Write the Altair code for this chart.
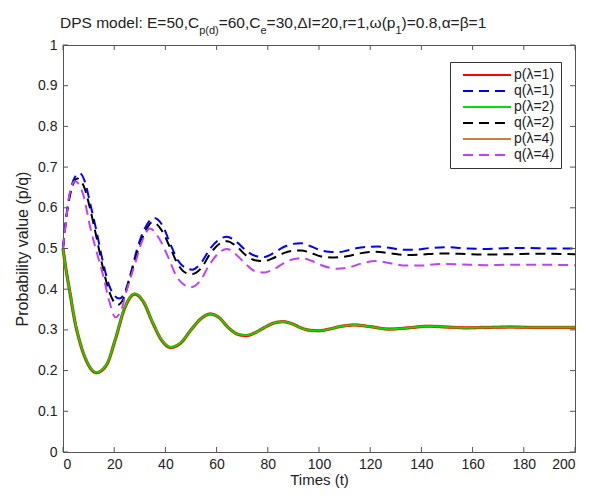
import altair as alt
import pandas as pd

# ---------------- data ----------------
labels = ["p(λ=1)", "q(λ=1)", "p(λ=2)", "q(λ=2)", "p(λ=4)", "q(λ=4)"]
colors = ["#FF0000", "#0000FF", "#00E000", "#000000", "#C8803C", "#C040FF"]

t_p = [0, 1.4, 2.7, 4.7, 6.6, 9.3, 13, 17, 20.5, 24, 28, 31.5, 35, 38.5, 42, 46,
       50, 54, 57.5, 61, 64.5, 68, 71.5, 75, 79, 82.5, 86, 89.5, 93, 96.5, 100,
       104, 108, 114, 120, 127.5, 135, 142.5, 150, 157, 165, 175, 185, 200]
p_lam1 = [0.500, 0.440, 0.392, 0.319, 0.270, 0.222, 0.195, 0.214, 0.278, 0.352,
          0.388, 0.368, 0.318, 0.275, 0.257, 0.268, 0.300, 0.328, 0.339, 0.330,
          0.306, 0.290, 0.286, 0.293, 0.307, 0.317, 0.320, 0.315, 0.305, 0.299,
          0.298, 0.302, 0.308, 0.312, 0.308, 0.302, 0.305, 0.309, 0.307, 0.305,
          0.306, 0.307, 0.306, 0.306]
p_lam2 = [0.500, 0.440, 0.393, 0.320, 0.271, 0.223, 0.196, 0.215, 0.279, 0.353,
          0.389, 0.369, 0.319, 0.276, 0.258, 0.269, 0.300, 0.328, 0.339, 0.330,
          0.306, 0.290, 0.287, 0.293, 0.307, 0.317, 0.320, 0.315, 0.305, 0.299,
          0.298, 0.302, 0.308, 0.312, 0.308, 0.302, 0.305, 0.309, 0.307, 0.305,
          0.306, 0.307, 0.306, 0.306]
p_lam4 = [0.500, 0.440, 0.392, 0.319, 0.270, 0.222, 0.195, 0.214, 0.278, 0.352,
          0.388, 0.368, 0.318, 0.275, 0.257, 0.268, 0.300, 0.328, 0.339, 0.330,
          0.306, 0.290, 0.286, 0.293, 0.307, 0.317, 0.320, 0.315, 0.305, 0.299,
          0.298, 0.302, 0.308, 0.312, 0.308, 0.302, 0.305, 0.309, 0.307, 0.305,
          0.306, 0.307, 0.306, 0.306]

t_q1 = [0, 1.5, 3, 4.5, 6.5, 8.5, 10.5, 13, 15.5, 18, 20, 22, 24, 26.5, 29, 32,
        35.5, 39, 42, 45, 48, 50.5, 54, 57.5, 61, 64, 68, 71.5, 75, 78.5, 82, 86,
        89.5, 93, 97, 100.5, 104, 107.5, 111, 115, 119, 123, 128, 133, 138, 143,
        150, 158, 166, 174, 182, 190, 200]
q_lam1 = [0.500, 0.590, 0.645, 0.674, 0.685, 0.665, 0.614, 0.545, 0.470, 0.410,
          0.385, 0.377, 0.390, 0.440, 0.500, 0.550, 0.575, 0.555, 0.510, 0.470,
          0.452, 0.448, 0.465, 0.500, 0.522, 0.529, 0.515, 0.495, 0.482, 0.479,
          0.488, 0.503, 0.511, 0.513, 0.505, 0.496, 0.492, 0.491, 0.495, 0.501,
          0.504, 0.505, 0.501, 0.497, 0.497, 0.501, 0.503, 0.500, 0.499, 0.501,
          0.501, 0.500, 0.500]

t_q2 = [0, 1.5, 3, 4.5, 5.5, 8, 10.5, 13, 15.5, 18, 20, 21.5, 23.5, 26, 29, 32,
        35, 38.5, 42, 45, 48, 50.3, 54, 57.5, 61, 64, 68, 71.5, 75, 78.5, 82, 86,
        89.5, 93, 97, 100.5, 106, 111, 116, 122, 128, 134, 140, 147, 155, 165,
        175, 185, 200]
q_lam2 = [0.500, 0.585, 0.638, 0.665, 0.672, 0.655, 0.600, 0.530, 0.455, 0.395,
          0.368, 0.362, 0.375, 0.425, 0.490, 0.540, 0.565, 0.545, 0.500, 0.460,
          0.440, 0.437, 0.452, 0.487, 0.511, 0.518, 0.504, 0.483, 0.471, 0.469,
          0.476, 0.488, 0.494, 0.495, 0.489, 0.481, 0.478, 0.481, 0.488, 0.492,
          0.488, 0.484, 0.485, 0.488, 0.487, 0.485, 0.486, 0.487, 0.486]

t_q4 = [0, 1.4, 2.7, 4.7, 6.5, 8, 10.5, 13.2, 15.7, 18, 20.5, 22.5, 25, 28.5, 31,
        34, 37.5, 41, 44.5, 47.5, 50, 53.5, 57, 61, 64, 68, 71.5, 75, 78.5, 82,
        86, 89.5, 93, 97, 101, 107, 112, 117, 122, 128, 134, 140, 147, 155, 165,
        175, 185, 200]
q_lam4 = [0.500, 0.580, 0.638, 0.665, 0.655, 0.630, 0.556, 0.490, 0.433, 0.372,
          0.331, 0.345, 0.400, 0.470, 0.520, 0.549, 0.525, 0.480, 0.430, 0.410,
          0.405, 0.420, 0.458, 0.490, 0.499, 0.483, 0.461, 0.444, 0.441, 0.448,
          0.463, 0.473, 0.476, 0.470, 0.459, 0.450, 0.454, 0.464, 0.469, 0.464,
          0.458, 0.458, 0.462, 0.461, 0.459, 0.460, 0.460, 0.459]

x_ticks = [0, 20, 40, 60, 80, 100, 120, 140, 160, 180, 200]
y_ticks = [0, 0.1, 0.2, 0.3, 0.4, 0.5, 0.6, 0.7, 0.8, 0.9, 1]

# ---------------- build table (draw order: p4, p1, p2, q1, q2, q4) ----------------
series = [
    ("p(λ=4)", t_p, p_lam4, 3.4),
    ("p(λ=1)", t_p, p_lam1, 2.6),
    ("p(λ=2)", t_p, p_lam2, 1.8),
    ("q(λ=1)", t_q1, q_lam1, 2.0),
    ("q(λ=2)", t_q2, q_lam2, 2.0),
    ("q(λ=4)", t_q4, q_lam4, 2.0),
]
rows = []
for name, ts, vs, w in series:
    for t, v in zip(ts, vs):
        rows.append({"series": name, "t": t, "v": v, "w": w})
df = pd.DataFrame(rows)

W, H = 512, 407
FONT = "Liberation Sans"
AX = "#555555"
TXT = "#222222"

dashes = [[1, 0], [10, 6], [1, 0], [10, 6], [1, 0], [10, 6]]

x_axis = alt.Axis(values=x_ticks, format="d", title="Times (t)", ticks=False,
                  tickSize=0, labelPadding=5, titlePadding=1, grid=False,
                  titleFontSize=15)
y_axis = alt.Axis(values=y_ticks, format="~g", title="Probability value (p/q)",
                  ticks=False, tickSize=0, labelPadding=6, titlePadding=7, grid=False)
x_enc = alt.X("t:Q", scale=alt.Scale(domain=[0, 200], nice=False), axis=x_axis)
y_enc = alt.Y("v:Q", scale=alt.Scale(domain=[0, 1], nice=False), axis=y_axis)

lines = alt.Chart(df).mark_line(interpolate="monotone").encode(
    x=x_enc,
    y=y_enc,
    color=alt.Color("series:N", scale=alt.Scale(domain=labels, range=colors), title=None),
    strokeDash=alt.StrokeDash("series:N", scale=alt.Scale(domain=labels, range=dashes),
                              title=None),
    strokeWidth=alt.StrokeWidth("w:Q", scale=None, legend=None),
)

# inward tick marks on all four sides (MATLAB box style)
xt = pd.DataFrame({"t": x_ticks})
yt = pd.DataFrame({"v": y_ticks})
tick_b = alt.Chart(xt).mark_rule(color=AX, strokeWidth=1).encode(
    x=x_enc, y=alt.value(H), y2=alt.value(H - 5))
tick_t = alt.Chart(xt).mark_rule(color=AX, strokeWidth=1).encode(
    x=x_enc, y=alt.value(0), y2=alt.value(5))
tick_l = alt.Chart(yt).mark_rule(color=AX, strokeWidth=1).encode(
    y=y_enc, x=alt.value(0), x2=alt.value(5))
tick_r = alt.Chart(yt).mark_rule(color=AX, strokeWidth=1).encode(
    y=y_enc, x=alt.value(W), x2=alt.value(W - 5))

# title with subscripts, laid out from Arial/Liberation Sans glyph widths
widths = {" ": 278, ":": 278, ",": 278, ".": 278, "=": 584, "(": 333, ")": 333,
          "D": 722, "P": 667, "S": 667, "E": 667, "C": 722, "I": 278,
          "m": 833, "o": 556, "d": 556, "e": 556, "l": 222, "p": 556, "r": 333,
          "Δ": 668, "ω": 781, "α": 578, "β": 575}
for ch in "0123456789":
    widths[ch] = 556

MAIN, SUB = 15.5, 11
segments = [("DPS model: E=50,C", MAIN, 0), ("p(d)", SUB, 5.5), ("=60,C", MAIN, 0),
            ("e", SUB, 5.5), ("=30,ΔI=20,r=1,ω(p", MAIN, 0), ("1", SUB, 5.5),
            (")=0.8,α=β=1", MAIN, 0)]
x0, base = -3, -17
title_layers = []
cx = x0
for txt, fs, dy in segments:
    title_layers.append(
        alt.Chart(pd.DataFrame({"txt": [txt]})).mark_text(
            align="left", baseline="alphabetic", font=FONT, fontSize=fs, color=TXT
        ).encode(text="txt:N", x=alt.value(cx), y=alt.value(base + dy))
    )
    cx += sum(widths.get(c, 556) for c in txt) * fs / 1000.0

chart = alt.layer(lines, tick_b, tick_t, tick_l, tick_r, *title_layers).properties(
    width=W, height=H,
    autosize=alt.AutoSizeParams(type="none"),
    padding={"left": 55, "top": 37, "right": 8, "bottom": 38},
).configure_view(stroke=AX, strokeWidth=1).configure_axis(
    domainColor=AX, labelFont=FONT, titleFont=FONT, labelFontSize=14,
    titleFontSize=16, labelColor=TXT, titleColor=TXT, titleFontWeight="normal",
).configure_legend(
    orient="none", legendX=387, legendY=17, symbolType="M0,0H8", symbolSize=144,
    symbolStrokeWidth=2, labelFont=FONT, labelFontSize=14, labelColor=TXT,
    labelOffset=44, padding=6, strokeColor="#333333", fillColor="white",
    rowPadding=2, cornerRadius=0,
)

chart.save("out.html", embed_options={"renderer": "svg", "actions": False})
